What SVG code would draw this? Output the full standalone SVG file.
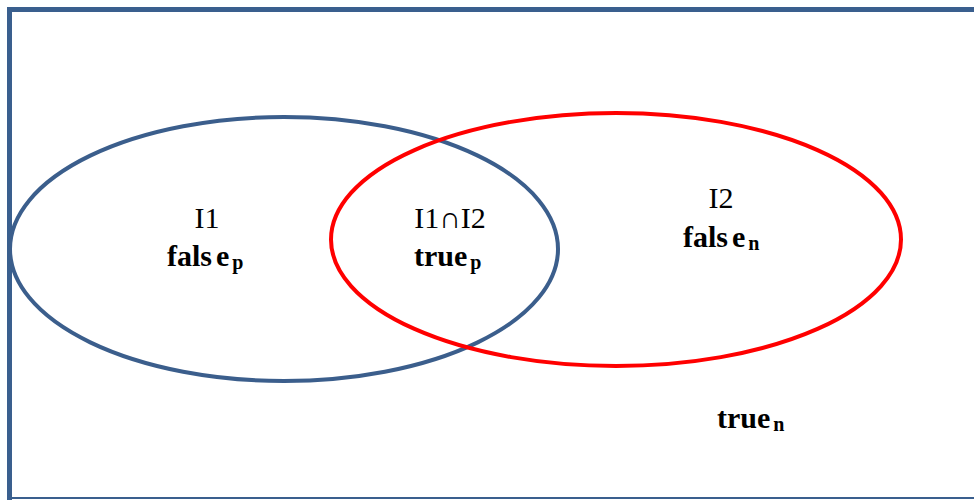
<svg xmlns="http://www.w3.org/2000/svg" width="974" height="500" viewBox="0 0 974 500">
<style>
.t{font-family:"Liberation Serif","Times New Roman",serif;font-size:30px;fill:#000}
.b{font-weight:bold}
.s{font-size:20px;font-weight:bold}
</style>
<rect width="974" height="500" fill="#fff"/>
<g id="universe">
<path d="M9.5 500 V9.5 H974" fill="none" stroke="#3A5F8E" stroke-width="5"/>
<path d="M9.5 498 H974" fill="none" stroke="#3A5F8E" stroke-width="2"/>
</g>
<g id="I1"><ellipse cx="284" cy="249" rx="274" ry="132" fill="none" stroke="#3B5E8C" stroke-width="4"/></g>
<g id="I2"><ellipse cx="616" cy="239.5" rx="285" ry="126.5" fill="none" stroke="#FF0000" stroke-width="4"/></g>
<g id="labels">
<text class="t" x="207" y="228" text-anchor="middle">I1</text>
<text class="t b" x="167" y="266">fals<tspan dx="4">e</tspan><tspan class="s" dx="3" dy="3">p</tspan></text>
<text class="t" x="450" y="228" text-anchor="middle">I1∩I2</text>
<text class="t b" x="414" y="266">true<tspan class="s" dx="3" dy="3">p</tspan></text>
<text class="t" x="721" y="208" text-anchor="middle">I2</text>
<text class="t b" x="683" y="247">fals<tspan dx="4">e</tspan><tspan class="s" dx="3" dy="3">n</tspan></text>
<text class="t b" x="717" y="428">true<tspan class="s" dx="3" dy="3">n</tspan></text>
</g>
</svg>
